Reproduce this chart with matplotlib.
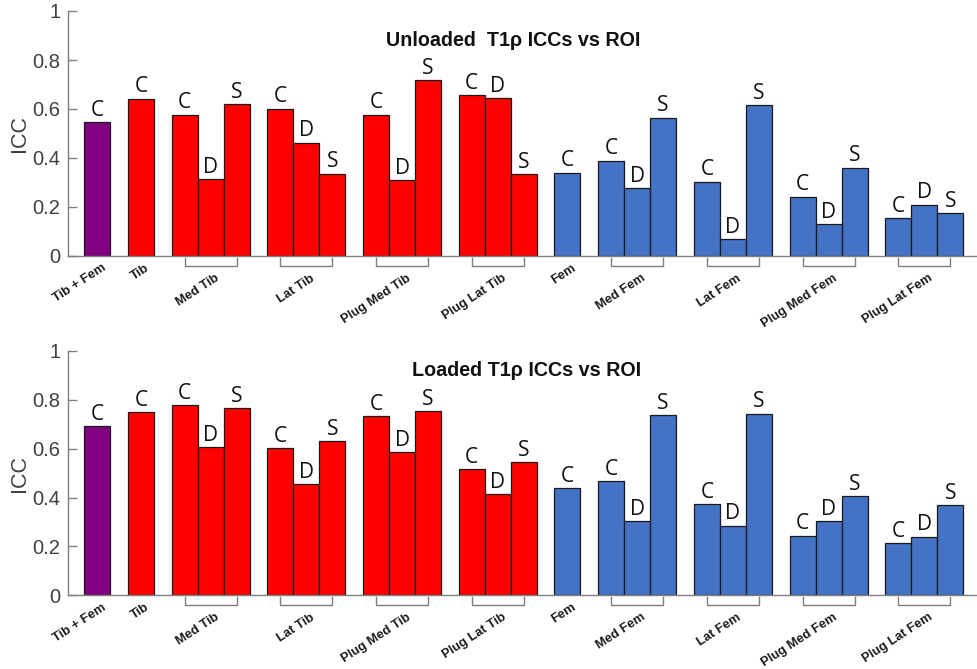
import matplotlib
matplotlib.use("Agg")
import matplotlib.pyplot as plt
import numpy as np

# ---- data ----
items = ["Tib + Fem", "Tib", "Med Tib", "Lat Tib", "Plug Med Tib", "Plug Lat Tib",
         "Fem", "Med Fem", "Lat Fem", "Plug Med Fem", "Plug Lat Fem"]
item_colors = ["#800080", "#FF0000", "#FF0000", "#FF0000", "#FF0000", "#FF0000",
               "#4472C4", "#4472C4", "#4472C4", "#4472C4", "#4472C4"]
bar_letters = [["C"], ["C"], ["C", "D", "S"], ["C", "D", "S"], ["C", "D", "S"], ["C", "D", "S"],
               ["C"], ["C", "D", "S"], ["C", "D", "S"], ["C", "D", "S"], ["C", "D", "S"]]

unloaded = [[0.547], [0.641], [0.577, 0.313, 0.620], [0.601, 0.463, 0.336],
            [0.577, 0.309, 0.718], [0.657, 0.644, 0.333], [0.340],
            [0.389, 0.276, 0.565], [0.303, 0.068, 0.616], [0.242, 0.129, 0.360],
            [0.154, 0.209, 0.174]]
loaded = [[0.693], [0.749], [0.778, 0.606, 0.765], [0.602, 0.454, 0.630],
          [0.734, 0.585, 0.753], [0.516, 0.413, 0.544], [0.438],
          [0.468, 0.304, 0.737], [0.372, 0.284, 0.744], [0.243, 0.304, 0.405],
          [0.214, 0.239, 0.368]]

titles = ["Unloaded  T1\u03c1 ICCs vs ROI", "Loaded T1\u03c1 ICCs vs ROI"]
yticks = [0, 0.2, 0.4, 0.6, 0.8, 1]
ytick_labels = ["0", "0.2", "0.4", "0.6", "0.8", "1"]

GAP = 1.68  # spacing between items (bar width = 1)

W, H = 977, 669
fig = plt.figure(figsize=(W / 100, H / 100), dpi=100)

axis_gray = "#7f7f7f"
text_gray = "#404040"


def make_panel(rect, values, title, title_xy):
    ax = fig.add_axes(rect)
    pos = 0.0
    for k, (name, vals, letters, col) in enumerate(zip(items, values, bar_letters, item_colors)):
        if k > 0:
            pos += GAP
        xs = pos + np.arange(len(vals))
        ax.bar(xs, vals, width=1.0, color=col, edgecolor="#1a1a1a", linewidth=0.9, zorder=2)
        for x, v, l in zip(xs, vals, letters):
            ax.text(x, v + 0.006, l, ha="center", va="bottom", fontsize=15,
                    family="Open Sans", color="#111111")
        if len(vals) > 1:
            ax.plot([xs[0], xs[0], xs[-1], xs[-1]], [-0.008, -0.040, -0.040, -0.008],
                    color=axis_gray, lw=1.0, clip_on=False)
            ly = -0.066
        else:
            ly = -0.024
        cx = xs.mean()
        ax.text(cx + 0.15, ly, name, rotation=33, rotation_mode="anchor",
                ha="right", va="top", fontsize=9.3, fontweight="bold",
                family="Liberation Sans", color="#1a1a1a")
        pos = xs[-1]
    ax.set_xlim(-1.127, 33.83)
    ax.set_ylim(0, 1)
    ax.set_yticks(yticks)
    ax.set_yticklabels(ytick_labels, family="Liberation Sans", fontsize=14.5, color=text_gray)
    ax.set_xticks([])
    ax.tick_params(axis="y", direction="in", length=6.5, width=1, color=axis_gray, pad=5.5)
    for s in ["top", "right"]:
        ax.spines[s].set_visible(False)
    for s in ["left", "bottom"]:
        ax.spines[s].set_color(axis_gray)
        ax.spines[s].set_linewidth(1.0)
    ax.set_ylabel("ICC", family="Liberation Sans", fontsize=15.5, color=text_gray)
    ax.yaxis.set_label_coords(-0.042, 0.5)
    fig.text(title_xy[0] / W, 1 - title_xy[1] / H, title, ha="center", va="center",
             fontsize=14.2, fontweight="bold", family="Liberation Sans", color="#111111")
    return ax


ax1 = make_panel([68 / W, (H - 256) / H, (W - 68) / W, 245 / H], unloaded, titles[0], (513, 40))
ax2 = make_panel([68 / W, (H - 595.3) / H, (W - 68) / W, 244.3 / H], loaded, titles[1], (527, 370))

fig.savefig("out.png", dpi=100)
